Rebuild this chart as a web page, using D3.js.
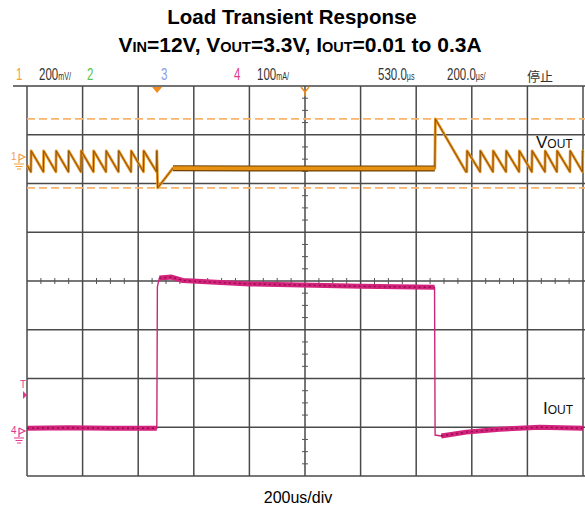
<!DOCTYPE html>
<html>
<head>
<meta charset="utf-8">
<script src="https://cdn.jsdelivr.net/npm/d3@7"></script>
<style>
  body { margin: 0; background: #fff; }
  svg { display: block; }
</style>
</head>
<body>
<svg width="585" height="511"></svg>
<script>
// Load transient scope capture: Vout (ch1, 200mV/div) and Iout (ch4, 100mA/div), 200us/div

// time axis, us
var timeTicks = [0, 200, 400, 600, 800, 1000, 1200, 1400, 1600, 1800, 2000];

// Vout deviation from 3.3V, mV
var rippleHigh = 72, rippleLow = -14;
var riseTimesBefore = [14, 59, 104, 149, 194, 239, 284, 329, 374, 419, 466];
var voutTransient = [[470, -80], [525, 1], [800, 0], [1200, 0], [1467, 0], [1469, 203], [1579, -14]];
var riseTimesAfter = [1582, 1630, 1676, 1723, 1770, 1816, 1863, 1906, 1953, 1998];
var voutSteady = [525, 1467];   // flat, noisy section
var cursorLevels = [203, -80];  // dashed cursor lines, mV

// Iout, mA
var ioutPoints = [[0, 10], [150, 11], [300, 10], [467, 10], [469, 300], [476, 318], [520, 320],
  [560, 313], [800, 306], [1200, 301], [1466, 299], [1468, -4], [1490, -6], [1580, 2],
  [1700, 8], [1845, 12], [2000, 10]];
var ioutSteady = [[0, 467], [472, 1466], [1470, 2000]];

var svg = d3.select("svg");

var x = d3.scaleLinear().domain([0, 2000]).range([27, 583]);
var div = d3.scaleLinear().domain([-4, 4]).range([476, 86]);
var yV = d3.scaleLinear().domain([-1262, 338]).range([476, 86]);
var yI = d3.scaleLinear().domain([-88, 712]).range([476, 86]);

// title
svg.append("text")
    .attr("x", 292).attr("y", 24)
    .attr("text-anchor", "middle")
    .style("font-family", "'Liberation Sans', Arial, sans-serif")
    .style("font-weight", "bold")
    .style("font-size", "20.5px")
    .text("Load Transient Response");

var t2 = svg.append("text")
    .attr("x", 300).attr("y", 52)
    .attr("text-anchor", "middle")
    .style("font-family", "'Liberation Sans', Arial, sans-serif")
    .style("font-weight", "bold")
    .style("font-size", "21px");
var parts = [["V", 0], ["IN", 1], ["=12V, V", 0], ["OUT", 1], ["=3.3V, I", 0], ["OUT", 1], ["=0.01 to 0.3A", 0]];
parts.forEach(function(p) {
    t2.append("tspan")
        .style("font-size", p[1] ? "14.5px" : "21px")
        .text(p[0]);
});

// grid
var grid = svg.append("g");
grid.append("line")
    .attr("x1", 13).attr("x2", 585)
    .attr("y1", div(4)).attr("y2", div(4))
    .attr("stroke", "#444").attr("stroke-width", 1.5);
grid.selectAll(".hl")
    .data(d3.range(-4, 4))
    .enter().append("line")
    .attr("x1", x(0)).attr("x2", 585)
    .attr("y1", function(d) { return div(d); })
    .attr("y2", function(d) { return div(d); })
    .attr("stroke", "#4a4a4a").attr("stroke-width", 1.5);
grid.selectAll(".vl")
    .data(timeTicks)
    .enter().append("line")
    .attr("x1", function(d) { return x(d); })
    .attr("x2", function(d) { return x(d); })
    .attr("y1", div(4)).attr("y2", div(-4))
    .attr("stroke", "#4a4a4a").attr("stroke-width", 1.5);

// minor ticks on center lines
var minorX = d3.range(0, 2001, 50).filter(function(d) { return d % 200 != 0; });
grid.selectAll(".mx")
    .data(minorX)
    .enter().append("line")
    .attr("x1", function(d) { return x(d); })
    .attr("x2", function(d) { return x(d); })
    .attr("y1", div(0) - 3).attr("y2", div(0) + 3)
    .attr("stroke", "#555").attr("stroke-width", 1);
var minorY = d3.range(-4, 4.01, 0.25).filter(function(d) { return d % 1 != 0; });
grid.selectAll(".my")
    .data(minorY)
    .enter().append("line")
    .attr("x1", x(1000) - 3).attr("x2", x(1000) + 3)
    .attr("y1", function(d) { return div(d); })
    .attr("y2", function(d) { return div(d); })
    .attr("stroke", "#555").attr("stroke-width", 1);

// cursors
svg.selectAll(".cursor")
    .data(cursorLevels)
    .enter().append("line")
    .attr("x1", x(0)).attr("x2", 585)
    .attr("y1", function(d) { return yV(d); })
    .attr("y2", function(d) { return yV(d); })
    .attr("stroke", "#f9b46c").attr("stroke-width", 1.6)
    .attr("stroke-dasharray", "8,4");

// build Vout trace from rise times and transient points
var vout = [[0, 13]];
riseTimesBefore.forEach(function(t) { vout.push([t, rippleLow], [t + 1, rippleHigh]); });
voutTransient.forEach(function(p) { vout.push(p); });
riseTimesAfter.forEach(function(t) { vout.push([t, rippleLow], [t + 1, rippleHigh]); });
vout.push([2000, 68]);

var vLine = d3.line()
    .x(function(d) { return x(d[0]); })
    .y(function(d) { return yV(d[1]); });

svg.append("path").attr("d", vLine(vout))
    .attr("fill", "none").attr("stroke", "#e69426").attr("stroke-width", 2.8)
    .attr("stroke-linejoin", "round");
svg.append("path").attr("d", vLine(vout))
    .attr("fill", "none").attr("stroke", "#8a5206").attr("stroke-width", 1)
    .attr("stroke-linejoin", "round");

var vBand = vout.filter(function(d) { return d[0] >= voutSteady[0] && d[0] <= voutSteady[1]; });
svg.append("path").attr("d", vLine(vBand))
    .attr("fill", "none").attr("stroke", "#6e4206").attr("stroke-width", 6);
svg.append("path").attr("d", vLine(vBand))
    .attr("fill", "none").attr("stroke", "#e8900f").attr("stroke-width", 3.6);

// Iout trace
var iLine = d3.line()
    .x(function(d) { return x(d[0]); })
    .y(function(d) { return yI(d[1]); });
svg.append("path").attr("d", iLine(ioutPoints))
    .attr("fill", "none").attr("stroke", "#c8287a").attr("stroke-width", 1.4);
ioutSteady.forEach(function(r) {
    var seg = ioutPoints.filter(function(d) { return d[0] >= r[0] && d[0] <= r[1]; });
    svg.append("path").attr("d", iLine(seg))
        .attr("fill", "none").attr("stroke", "#d4237c").attr("stroke-width", 5)
        .attr("stroke-linejoin", "round");
    svg.append("path").attr("d", iLine(seg))
        .attr("fill", "none").attr("stroke", "#8e1048").attr("stroke-width", 1.4)
        .attr("stroke-dasharray", "2,3");
});

// trace labels
function sublabel(px, py, main, sub) {
    var t = svg.append("text")
        .attr("x", px).attr("y", py)
        .style("font-family", "'Liberation Sans', Arial, sans-serif")
        .style("fill", "#111");
    t.append("tspan").style("font-size", "17px").text(main);
    t.append("tspan").style("font-size", "12px").text(sub);
}
sublabel(536, 148, "V", "OUT");
sublabel(543, 414, "I", "OUT");

// scope header
var header = [
    {x: 16, t: "1", c: "#f3a13a"},
    {x: 39, t: "200", s: "mV/", c: "#333"},
    {x: 87, t: "2", c: "#5cc44a"},
    {x: 161, t: "3", c: "#8c9ae6"},
    {x: 234, t: "4", c: "#e0388e"},
    {x: 257, t: "100", s: "mA/", c: "#333"},
    {x: 378, t: "530.0", s: "µs", c: "#333"},
    {x: 447, t: "200.0", s: "µs/", c: "#333"}
];
header.forEach(function(h) {
    var g = svg.append("g").attr("transform", "translate(" + h.x + ",80) scale(0.72,1)");
    var t = g.append("text")
        .style("font-family", "'Liberation Sans', Arial, sans-serif")
        .style("font-size", "16px")
        .style("fill", h.c);
    t.append("tspan").text(h.t);
    if (h.s) t.append("tspan").style("font-size", "10px").text(h.s);
});
svg.append("text")
    .attr("x", 527).attr("y", 81)
    .style("font-family", "'Noto Sans CJK SC', sans-serif")
    .style("font-size", "13px")
    .style("fill", "#333")
    .text("停止");

// trigger / center markers
svg.append("path")
    .attr("d", "M" + (x(468) - 5) + ",87 L" + (x(468) + 5) + ",87 L" + x(468) + ",93 Z")
    .attr("fill", "#f08c1c");
svg.append("path")
    .attr("d", "M" + (x(1000) - 4) + ",87 L" + x(1000) + ",92 L" + (x(1000) + 4) + ",87 M" + x(1000) + ",92 L" + x(1000) + ",96")
    .attr("fill", "none").attr("stroke", "#f08c1c").attr("stroke-width", 1.5);

// channel ground markers
function chMarker(py, label, col) {
    var g = svg.append("g").attr("transform", "translate(0," + py + ")");
    g.append("text").attr("x", 11).attr("y", 0)
        .style("font-family", "'Liberation Sans', Arial, sans-serif")
        .style("font-size", "10px").style("fill", col).text(label);
    g.append("path").attr("d", "M19,-6 L19,3 M19,-6 L25,-3 L19,0")
        .attr("fill", "none").attr("stroke", col).attr("stroke-width", 1.2);
    g.append("path").attr("d", "M14,4 L24,4 M15.5,6.5 L22.5,6.5 M17,9 L21,9")
        .attr("stroke", col).attr("stroke-width", 1);
}
chMarker(160, "1", "#f3a13a");
chMarker(434, "4", "#e0388e");
svg.append("text").attr("x", 20).attr("y", 388)
    .style("font-family", "'Liberation Sans', Arial, sans-serif")
    .style("font-size", "10px").style("fill", "#e0388e").text("T");
svg.append("path").attr("d", "M23,391 L27,395 L23,399 Z").attr("fill", "#e0388e");

// time base label
svg.append("text")
    .attr("x", 298).attr("y", 503)
    .attr("text-anchor", "middle")
    .style("font-family", "'Liberation Sans', Arial, sans-serif")
    .style("font-size", "16px")
    .text("200us/div");
</script>
</body>
</html>
